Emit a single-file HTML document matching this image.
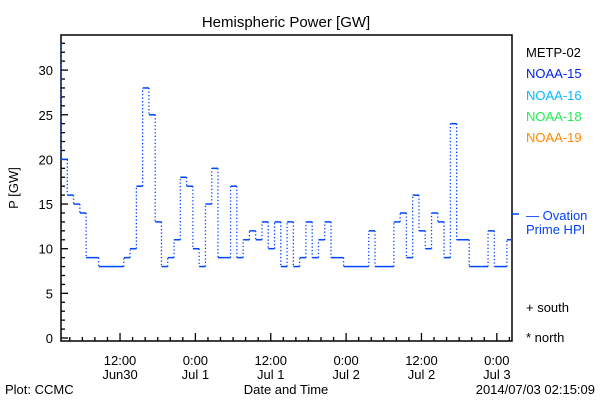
<!DOCTYPE html>
<html><head><meta charset="utf-8"><style>
body{margin:0;background:#fff}
svg text{font-family:"Liberation Sans",sans-serif;font-size:13px}
</style></head><body>
<svg width="600" height="400" xmlns="http://www.w3.org/2000/svg">
<text x="286" y="27" text-anchor="middle" font-size="15" style="font-size:15px">Hemispheric Power [GW]</text>
<rect x="61" y="35" width="451" height="306" fill="none" stroke="#000" stroke-width="1.5"/>
<g id="yaxis"></g>
<g id="xaxis"></g>
<g id="series"></g>
<text x="0" y="0" transform="translate(18,188) rotate(-90)" text-anchor="middle">P [GW]</text>
<text x="286" y="394" text-anchor="middle">Date and Time</text>
<text x="5" y="394">Plot: CCMC</text>
<text x="595" y="394" text-anchor="end">2014/07/03 02:15:09</text>
<g>
<text x="526" y="57" fill="#000">METP-02</text>
<text x="526" y="78" fill="#0022ee">NOAA-15</text>
<text x="526" y="100" fill="#00bbff">NOAA-16</text>
<text x="526" y="121" fill="#22ee55">NOAA-18</text>
<text x="526" y="142" fill="#ff8800">NOAA-19</text>
<line x1="512" y1="214" x2="519" y2="214" stroke="#0044ff" stroke-width="1.5"/>
<text x="526" y="220" fill="#0044ff">— Ovation</text>
<text x="526" y="234" fill="#0044ff">Prime HPI</text>
<text x="526" y="312">+ south</text>
<text x="526" y="342">* north</text>
</g>
</svg>
<script>
const hourlyValues=[20,16,15,14,9,9,8,8,8,8,9,10,17,28,25,13,8,9,11,18,17,10,8,15,19,9,9,17,9,11,12,11,13,10,13,8,13,8,9,13,9,11,13,9,9,8,8,8,8,12,8,8,8,13,14,9,16,12,10,14,13,9,24,11,11,8,8,8,12,8,8,11];
const startValue=33;
const startHour=2.6; // hours after Jun30 00:00 of first sample
const yTicks=[0,5,10,15,20,25,30];
const xTickHours=[12,24,36,48,60,72];
const xTickTimes=["12:00","0:00","12:00","0:00","12:00","0:00"];
const xTickDates=["Jun30","Jul 1","Jul 1","Jul 2","Jul 2","Jul 3"];
const NS="http://www.w3.org/2000/svg";
const X0=61,X1=512,Y0=341,Ytop=35;
const pxHr=6.28;
function xs(h){return X0+(h-startHour)*pxHr;}
function ys(v){return 338-v*8.93;}
function mk(tag,attrs,parent){const e=document.createElementNS(NS,tag);for(const k in attrs)e.setAttribute(k,attrs[k]);parent.appendChild(e);return e;}
const ya=document.getElementById('yaxis'),xa=document.getElementById('xaxis'),sg=document.getElementById('series');
for(let v=0;v<=33;v++){const y=ys(v);const major=v%5===0;
 const t=mk('line',{x1:X0,x2:X0+(major?7:4),y1:y,y2:y,stroke:'#000','stroke-width':1.3},ya);
 
 }
yTicks.forEach(v=>{const t=mk('text',{x:X0-8,y:ys(v)+5,'text-anchor':'end'},ya);t.textContent=v;
 
 });
for(let h=4;h<=74;h+=2){const x=xs(h);if(x<X0||x>X1)continue;const major=h%12===0;
 const t=mk('line',{x1:x,x2:x,y1:Y0,y2:Y0-(major?8:4),stroke:'#000','stroke-width':1.3},xa);
 
 }
xTickHours.forEach((h,i)=>{const x=xs(h);
 const a=mk('text',{x:x,y:365,'text-anchor':'middle'},xa);a.textContent=xTickTimes[i];
 
 
 const b=mk('text',{x:x,y:379,'text-anchor':'middle'},xa);b.textContent=xTickDates[i];
 
 });
let prev=startValue;
hourlyValues.forEach((v,i)=>{const xa0=xs(startHour+i),xb=Math.min(xs(startHour+i+1),X1);
 const vl=mk('line',{x1:xa0,x2:xa0,y1:ys(prev),y2:ys(v),stroke:'#0044ff','stroke-width':1.3,'stroke-dasharray':'1.3 2.2'},sg);
 
 
 const hl=mk('line',{x1:xa0,x2:xb,y1:ys(v),y2:ys(v),stroke:'#0044ff','stroke-width':1.5},sg);
 
 
 prev=v;});
</script>
</body></html>
